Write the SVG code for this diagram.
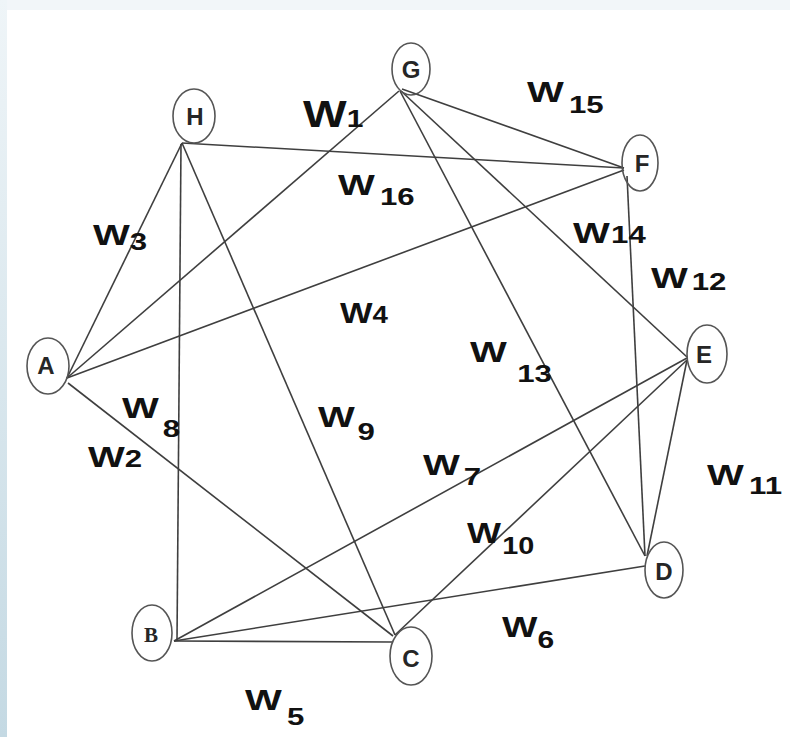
<svg xmlns="http://www.w3.org/2000/svg" width="790" height="737" viewBox="0 0 790 737">
  <defs>
    <linearGradient id="edge" x1="0" y1="0" x2="0" y2="1">
      <stop offset="0" stop-color="#eff5f8"/>
      <stop offset="1" stop-color="#c4d9e3"/>
    </linearGradient>
    <style>
      .node ellipse { fill: none; stroke: #555; stroke-width: 1.6; }
      .node text { font-family: "Liberation Sans", Arial, sans-serif; font-weight: bold; font-size: 24px; fill: #262626; text-anchor: middle; }
      .node text.serif { font-family: "Liberation Serif", "Times New Roman", serif; font-size: 21px; }
      #edges line { stroke: #3f3f3f; stroke-width: 1.6; }
      .lbl { font-family: "Liberation Sans", Arial, sans-serif; font-weight: bold; fill: #111; }
      .lbl .w { font-size: 30px; }
      .lbl .n { font-size: 24px; }
    </style>
  </defs>

  <!-- page frame -->
  <rect x="0" y="0" width="790" height="737" fill="#f2f6f9"/>
  <rect x="0" y="0" width="7" height="737" fill="url(#edge)"/>
  <rect x="7" y="10" width="783" height="727" fill="#ffffff"/>

  <!-- connectors -->
  <g id="edges">
    <line x1="67" y1="378" x2="399" y2="91"/>   <!-- A-G -->
    <line x1="68" y1="383" x2="393" y2="636"/>  <!-- A-C -->
    <line x1="67" y1="378" x2="182" y2="143"/>  <!-- A-H -->
    <line x1="67" y1="378" x2="624" y2="170"/>  <!-- A-F -->
    <line x1="174" y1="641" x2="392" y2="642"/> <!-- B-C -->
    <line x1="174" y1="641" x2="645" y2="566"/> <!-- B-D -->
    <line x1="174" y1="641" x2="687" y2="358"/> <!-- B-E -->
    <line x1="181" y1="144" x2="177" y2="641"/> <!-- H-B -->
    <line x1="182" y1="143" x2="395" y2="635"/> <!-- H-C -->
    <line x1="395" y1="635" x2="687" y2="360"/> <!-- C-E -->
    <line x1="687" y1="360" x2="647" y2="556"/> <!-- E-D -->
    <line x1="401" y1="91" x2="687" y2="357"/>  <!-- G-E -->
    <line x1="400" y1="91" x2="645" y2="556"/>  <!-- G-D -->
    <line x1="627" y1="176" x2="645" y2="556"/> <!-- F-D -->
    <line x1="402" y1="89" x2="624" y2="168"/>  <!-- G-F -->
    <line x1="182" y1="143" x2="624" y2="168"/> <!-- H-F -->
  </g>

  <!-- nodes -->
  <g id="node-G" class="node"><ellipse cx="411" cy="69" rx="19" ry="26"/><text x="411" y="78">G</text></g>
  <g id="node-H" class="node"><ellipse cx="194" cy="116" rx="21" ry="27"/><text x="195" y="125">H</text></g>
  <g id="node-F" class="node"><ellipse cx="640" cy="163" rx="18" ry="28"/><text x="642" y="172">F</text></g>
  <g id="node-A" class="node"><ellipse cx="48" cy="366" rx="21" ry="28"/><text x="46" y="374">A</text></g>
  <g id="node-E" class="node"><ellipse cx="707" cy="354" rx="20" ry="29"/><text x="704" y="363">E</text></g>
  <g id="node-D" class="node"><ellipse cx="664" cy="570" rx="19" ry="28"/><text x="664" y="580">D</text></g>
  <g id="node-B" class="node"><ellipse cx="152" cy="633" rx="20" ry="28"/><text class="serif" x="151" y="642">B</text></g>
  <g id="node-C" class="node"><ellipse cx="411" cy="656" rx="21" ry="29"/><text x="411" y="667">C</text></g>

  <!-- edge weights -->
  <g id="labels">
    <text class="lbl" transform="translate(303 127) scale(1.25 1)"><tspan class="w" style="font-size:37px">W</tspan><tspan class="n" dx="0">1</tspan></text>
    <text class="lbl" transform="translate(88 467) scale(1.3 1)"><tspan class="w">W</tspan><tspan class="n" dx="0">2</tspan></text>
    <text class="lbl" transform="translate(93 245) scale(1.3 1)"><tspan class="w">W</tspan><tspan class="n" dx="0" dy="5">3</tspan></text>
    <text class="lbl" transform="translate(340 323) scale(1.15 1)"><tspan class="w">W</tspan><tspan class="n" dx="0">4</tspan></text>
    <text class="lbl" transform="translate(245 710) scale(1.3 1)"><tspan class="w">W</tspan><tspan class="n" dx="4" dy="15">5</tspan></text>
    <text class="lbl" transform="translate(502 637) scale(1.25 1)"><tspan class="w">W</tspan><tspan class="n" dx="0" dy="11">6</tspan></text>
    <text class="lbl" transform="translate(423 475) scale(1.3 1)"><tspan class="w">W</tspan><tspan class="n" dx="3" dy="10">7</tspan></text>
    <text class="lbl" transform="translate(122 418) scale(1.3 1)"><tspan class="w">W</tspan><tspan class="n" dx="3" dy="19">8</tspan></text>
    <text class="lbl" transform="translate(318 427) scale(1.3 1)"><tspan class="w">W</tspan><tspan class="n" dx="2" dy="13">9</tspan></text>
    <text class="lbl" transform="translate(467 543) scale(1.2 1)"><tspan class="w">W</tspan><tspan class="n" dx="1" dy="11">10</tspan></text>
    <text class="lbl" transform="translate(707 485) scale(1.3 1)"><tspan class="w">W</tspan><tspan class="n" dx="4" dy="9">11</tspan></text>
    <text class="lbl" transform="translate(651 288) scale(1.3 1)"><tspan class="w">W</tspan><tspan class="n" dx="3" dy="2">12</tspan></text>
    <text class="lbl" transform="translate(470 362) scale(1.3 1)"><tspan class="w">W</tspan><tspan class="n" dx="8" dy="20">13</tspan></text>
    <text class="lbl" transform="translate(573 243) scale(1.3 1)"><tspan class="w">W</tspan><tspan class="n" dx="1">14</tspan></text>
    <text class="lbl" transform="translate(527 102) scale(1.3 1)"><tspan class="w">W</tspan><tspan class="n" dx="4" dy="11">15</tspan></text>
    <text class="lbl" transform="translate(338 195) scale(1.3 1)"><tspan class="w">W</tspan><tspan class="n" dx="4" dy="10">16</tspan></text>
  </g>
</svg>
